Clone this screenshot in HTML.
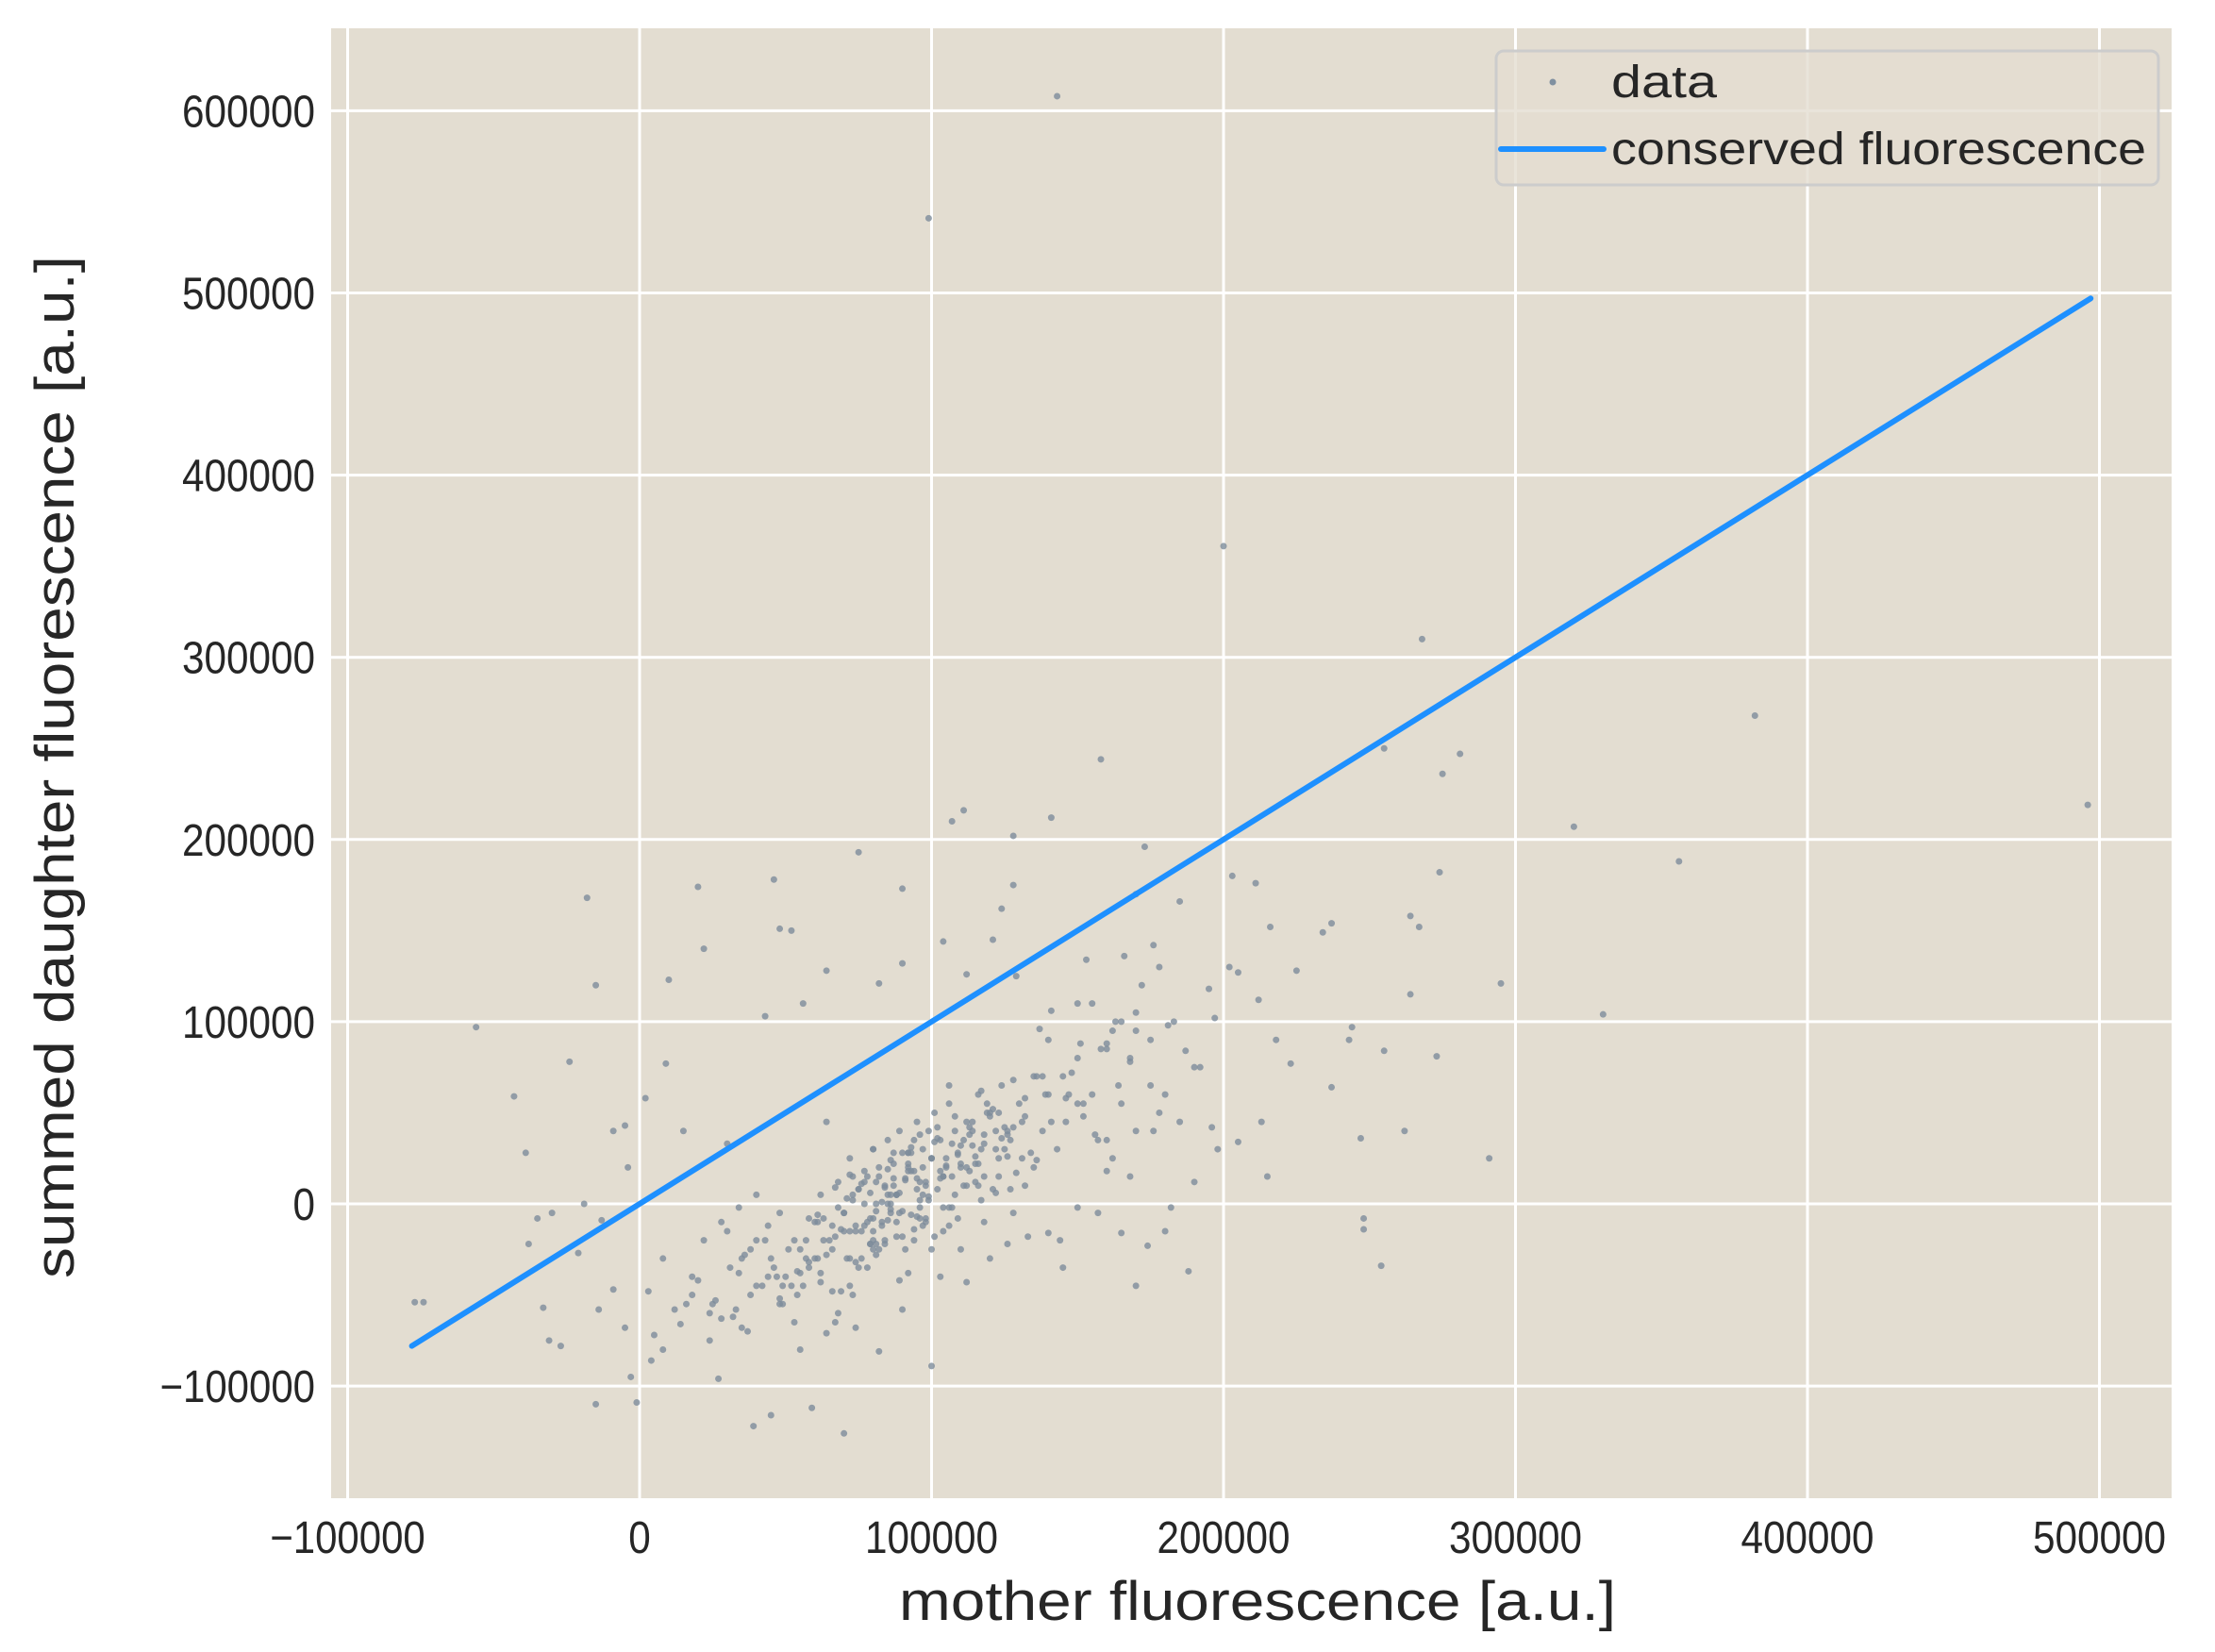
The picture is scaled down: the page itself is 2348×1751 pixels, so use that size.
<!DOCTYPE html>
<html><head><meta charset="utf-8"><style>
html,body{margin:0;padding:0;background:#fff;}
svg{display:block;font-family:"Liberation Sans","DejaVu Sans",sans-serif;}
</style></head><body>
<svg id="chart" width="2348" height="1751" viewBox="0 0 2348 1751" xmlns="http://www.w3.org/2000/svg">
<rect x="351" y="30" width="1951" height="1558" fill="#e3ddd1"/>
<g id="grid"></g>
<g id="points"></g>
<g id="line"></g>
<g id="xticks" font-size="48" fill="#262626" text-anchor="middle"></g>
<g id="yticks" font-size="48" fill="#262626" text-anchor="end"></g>
<text x="953" y="1717" font-size="58" fill="#262626" textLength="760" lengthAdjust="spacingAndGlyphs">mother fluorescence [a.u.]</text>
<text transform="translate(78,1355) rotate(-90)" font-size="58" fill="#262626" textLength="1084" lengthAdjust="spacingAndGlyphs">summed daughter fluorescence [a.u.]</text>
<g>
<rect x="1586" y="54" width="702" height="142" rx="8" fill="#e3ddd1" fill-opacity="0.8" stroke="#cccccc" stroke-width="3"/>
<circle cx="1646" cy="87" r="3.5" fill="#8090a0"/>
<text x="1708" y="103" font-size="48" fill="#262626" textLength="112" lengthAdjust="spacingAndGlyphs">data</text>
<line x1="1591" y1="158" x2="1700" y2="158" stroke="#1e90ff" stroke-width="6" stroke-linecap="round"/>
<text x="1708" y="174" font-size="48" fill="#262626" textLength="567" lengthAdjust="spacingAndGlyphs">conserved fluorescence</text>
</g>
</svg>
<script>
const xTicks = [-100000, 0, 100000, 200000, 300000, 400000, 500000];
const yTicks = [-100000, 0, 100000, 200000, 300000, 400000, 500000, 600000];
const xTickLabels = ["\u2212100000","0","100000","200000","300000","400000","500000"];
const yTickLabels = ["\u2212100000","0","100000","200000","300000","400000","500000","600000"];
const lineX = [-78000, 497000];
const lineY = [-78000, 497000];
// data points in thousands [mother, daughter]
const mother = [143,99,200,268,382,496,320,356,158,255,281,275,111,107,141,128,75,173,-18,-56,-43,-15,-39,-24,20,22,46,48,52,90,128,10,-77,-74,-33,-31,-27,-15,-1,4,39,45,59,70,100,291,295,330,264,267,274,273,262,248,248,254,247,244,237,234,225,203,211,216,202,205,212,218,223,213,215,237,243,264,255,188,170,145,174,165,182,190,196,205,180,187,181,197,195,178,185,170,176,166,153,141,137,124,129,121,112,104,90,82,64,56,43,30,15,9,2,-5,-9,-4,-19,-13,-30,-35,-38,-21,-14,-9,-5,5,8,14,18,26,27,28,33,35,48,54,62,64,74,82,90,103,112,120,126,133,140,150,160,160,170,147,150,160,165,155,
60,62,65,68,70,72,74,75,76,78,79,80,81,82,83,84,85,86,87,88,89,90,91,92,93,94,95,96,97,98,100,101,102,103,104,105,106,107,108,109,110,112,114,115,116,118,120,122,124,125,127,130,132,135,138,140,55,58,50,45,42,40,38,36,34,30,25,20,
66,70,73,77,80,84,88,92,96,99,103,107,111,115,119,123,127,131,135,139,143,148,152,156,160,165,170,175,
62,67,71,75,79,83,87,91,95,99,104,108,113,117,122,126,131,136,141,146,151,157,163,168,
52,57,61,69,73,78,82,86,90,94,98,102,106,110,114,119,123,128,
44,49,53,58,63,68,72,77,81,85,89,93,97,101,105,109,113,117,
12,18,24,32,38,46,54,60,66,72,80,86,92,98,104,110,116,122,128,134,
-3,3,8,16,22,28,34,40,47,53,
180,185,192,198,175,168,162,157,150,144,138,132,126,118,112,106,100,94,88,80,72,64,56,48,
71,74,77,81,84,86,88,91,93,95,97,99,102,104,106,109,111,113,116,118,121,123,126,129,79,83,85,87,89,92,94,96,
68,72,76,79,82,85,87,90,93,96,98,101,105,108,112,115,118,121,125,128,132,136,76,80,
57,61,64,67,69,73,75,78,81,84,86,89,92,95,97,100,103,107,110,114,117,120,124,
35,40,44,48,51,55,58,63,66,70,74,77,81,85,88,92,96,100,
140,145,150,155,162,168,172,178,183,190,146,152,158,164,170,176,
24,31,37,43,49,55,61,67,73,80];
const daughter = [608,541,361,310,268,219,207,188,244,250,247,236,216,210,212,202,193,196,168,97,59,120,28,78,174,140,178,151,150,173,175,123,-54,-54,-57,-75,-78,-110,-109,-86,-122,-116,-112,-126,-89,25,121,104,158,152,182,81,40,-8,-14,-34,36,97,154,149,128,180,176,152,130,127,112,90,77,45,15,64,90,115,84,-37,-45,-35,-23,-16,-2,12,42,34,-15,84,98,102,118,130,166,170,142,136,134,106,96,162,125,145,126,144,132,121,128,110,103,33,40,77,58,43,40,20,0,-9,-5,-8,-22,-27,-58,-47,-68,-72,-80,-66,-50,-53,-96,-63,-58,-68,-52,-37,-43,-71,-68,-81,-58,-40,-43,-30,-22,-18,-16,-2,18,35,40,60,80,88,100,110,
-10,5,-20,12,-5,25,-15,8,-30,15,-8,30,0,20,-12,10,35,-3,22,5,40,-18,14,28,-6,18,45,2,30,12,25,50,8,35,-2,20,55,15,40,28,32,10,45,22,60,38,50,30,65,42,35,55,48,70,40,60,-25,-35,-40,-30,-45,-20,-50,-28,-38,-15,-55,-42,
-25,-5,15,-12,30,-20,5,22,-8,40,18,-2,35,12,50,25,8,45,20,60,30,72,48,38,85,55,95,65,
-38,-18,-30,8,-22,-10,28,-25,14,2,-15,48,18,62,6,38,25,70,45,58,88,35,100,78,
-45,-30,-10,-48,5,-35,15,-5,28,-20,10,42,-12,20,32,55,15,68,
-40,-55,-20,-32,-8,-60,-15,12,-28,0,-42,18,5,-18,25,-8,38,2,
-58,-40,-75,-62,-25,-35,-50,-30,-12,-45,-20,5,-38,-8,15,-25,10,40,-5,28,
-95,-48,-30,-55,-20,-10,-2,5,-40,-65,
60,45,75,30,90,15,25,-5,55,-20,70,10,40,-10,20,65,-25,35,5,-15,-30,45,-45,-5,
3,-12,18,-4,9,24,-18,13,31,-7,20,4,36,15,-2,27,10,42,22,33,8,50,26,17,-22,1,-9,14,6,28,-14,38,
-2,16,-15,6,-25,19,10,-4,28,12,-10,34,21,5,45,26,15,52,30,42,58,24,11,-8,
-20,-6,-28,9,-14,2,-35,-10,12,-22,0,-5,20,8,-12,25,14,33,22,40,30,48,36,
-30,-45,-12,-55,-25,-38,-8,-20,-48,-15,-32,0,-22,5,-10,18,-2,25,
90,70,110,60,95,80,120,50,100,75,45,55,85,65,105,40,
-60,-35,-70,-20,-45,-80,-30,-65,-50,-25];

const X0=678, XS=309.5/100000, Y0=1276, YS=193.1/100000, PL=351, PR=2302, PT=30, PB=1588;
function xs(v){return X0+v*XS;}
function ys(v){return Y0-v*YS;}
const NS="http://www.w3.org/2000/svg";
function mk(tag,attrs,parent){const e=document.createElementNS(NS,tag);for(const k in attrs)e.setAttribute(k,attrs[k]);parent.appendChild(e);return e;}
const grid=document.getElementById('grid');
xTicks.forEach((t,i)=>{
  const l=mk('line',{x1:xs(t),x2:xs(t),y1:PT,y2:PB,stroke:'#ffffff','stroke-width':3},grid);
  
  
  const tx=mk('text',{x:xs(t),y:1646,textLength:(xTickLabels[i].length*23.5),lengthAdjust:'spacingAndGlyphs'},document.getElementById('xticks'));
  tx.textContent=xTickLabels[i];
  
  
});
yTicks.forEach((t,i)=>{
  const l=mk('line',{x1:PL,x2:PR,y1:ys(t),y2:ys(t),stroke:'#ffffff','stroke-width':3},grid);
  
  
  const tx=mk('text',{x:334,y:ys(t)+17,textLength:(yTickLabels[i].length*23.5),lengthAdjust:'spacingAndGlyphs'},document.getElementById('yticks'));
  tx.textContent=yTickLabels[i];
  
  
});
const pts=document.getElementById('points');
const n=Math.min(mother.length,daughter.length);
for(let i=0;i<n;i++){
  const c=mk('circle',{cx:xs(mother[i]*1000),cy:ys(daughter[i]*1000),r:3.5,fill:'#7d8c9b','fill-opacity':0.8},pts);
  
  
}
const ln=mk('line',{x1:xs(lineX[0]),y1:ys(lineY[0]),x2:xs(lineX[1]),y2:ys(lineY[1]),stroke:'#1e90ff','stroke-width':6,'stroke-linecap':'round'},document.getElementById('line'));


</script>
</body></html>
